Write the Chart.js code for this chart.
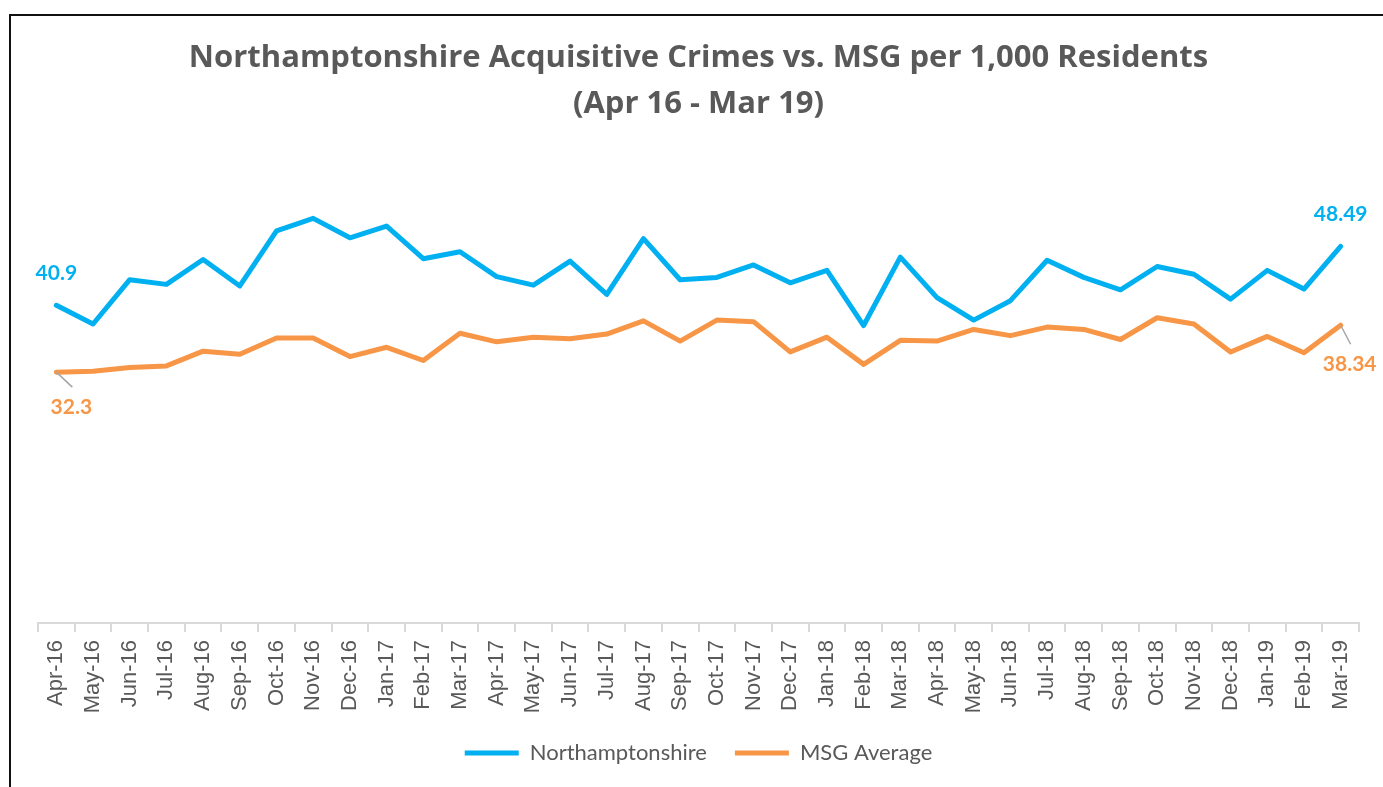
<!DOCTYPE html>
<html>
<head>
<meta charset="utf-8">
<title>Northamptonshire Acquisitive Crimes vs. MSG</title>
<script src="https://cdn.jsdelivr.net/npm/chart.js@4.4.0/dist/chart.umd.min.js"></script>
<style>
    html, body { margin: 0; padding: 0; background: #fff; overflow: hidden; }
    #frame { position: absolute; left: 9px; top: 14px; width: 1420px; height: 820px; border: 2px solid #111; }
    #crimeChart { position: absolute; left: 0; top: 0; }
</style>
</head>
<body>
<div id="frame"></div>
<canvas id="crimeChart" width="1383" height="787"></canvas>
<script>
// 데이터
const months = [
    'Apr-16', 'May-16', 'Jun-16', 'Jul-16', 'Aug-16', 'Sep-16', 'Oct-16', 'Nov-16', 'Dec-16',
    'Jan-17', 'Feb-17', 'Mar-17', 'Apr-17', 'May-17', 'Jun-17', 'Jul-17', 'Aug-17', 'Sep-17',
    'Oct-17', 'Nov-17', 'Dec-17', 'Jan-18', 'Feb-18', 'Mar-18', 'Apr-18', 'May-18', 'Jun-18',
    'Jul-18', 'Aug-18', 'Sep-18', 'Oct-18', 'Nov-18', 'Dec-18', 'Jan-19', 'Feb-19', 'Mar-19',
];
const northants = [
    40.9, 38.5, 44.2, 43.6, 46.8, 43.4, 50.5, 52.1, 49.6, 51.1, 46.9, 47.8,
    44.6, 43.5, 46.6, 42.3, 49.5, 44.2, 44.5, 46.1, 43.8, 45.4, 38.3, 47.1,
    41.9, 39.0, 41.5, 46.7, 44.5, 42.9, 45.9, 44.9, 41.7, 45.4, 43.0, 48.49,
];
const msgAverage = [
    32.3, 32.4, 32.9, 33.1, 35.0, 34.6, 36.7, 36.7, 34.3, 35.5, 33.8, 37.3,
    36.2, 36.8, 36.6, 37.2, 38.9, 36.3, 39.0, 38.8, 34.9, 36.8, 33.3, 36.4,
    36.3, 37.8, 37.0, 38.1, 37.8, 36.5, 39.3, 38.5, 34.9, 36.9, 34.8, 38.34,
];
const yTicks = { min: 0, max: 60 };
const labelledPoints = [0, months.length - 1];

const BLUE = '#00B0F0';
const ORANGE = '#F79646';
const GREY_TEXT = '#595959';

/**
 * 첫/마지막 값 라벨 (Excel 데이터 레이블 흉내)
 */
const endLabels = {
    id: 'endLabels',
    afterDatasetsDraw(chart) {
        const ctx = chart.ctx;
        // [datasetIndex][k] -> 라벨 위치 오프셋, 지시선 여부
        const placement = [
            [{ dx: 0, dy: -32, leader: false }, { dx: 0, dy: -32, leader: false }],
            [{ dx: 15, dy: 35, leader: true }, { dx: 9, dy: 39, leader: true }],
        ];
        ctx.save();
        ctx.font = 'bold 21px Lato';
        ctx.textAlign = 'center';
        ctx.textBaseline = 'middle';
        chart.data.datasets.forEach((ds, di) => {
            const meta = chart.getDatasetMeta(di);
            labelledPoints.forEach((idx, k) => {
                const pt = meta.data[idx];
                const p = placement[di][k];
                const tx = pt.x + p.dx;
                const ty = pt.y + p.dy;
                if (p.leader) {
                    ctx.strokeStyle = '#A6A6A6';
                    ctx.lineWidth = 1.5;
                    ctx.beginPath();
                    ctx.moveTo(pt.x, pt.y);
                    ctx.lineTo(tx + 1, ty - 20);
                    ctx.stroke();
                }
                ctx.fillStyle = ds.borderColor;
                ctx.fillText(String(ds.data[idx]), tx, ty);
            });
        });
        ctx.restore();
    },
};

new Chart(document.getElementById('crimeChart'), {
    type: 'line',
    data: {
        labels: months,
        datasets: [
            {
                label: 'Northamptonshire',
                data: northants,
                borderColor: BLUE,
                backgroundColor: BLUE,
                borderWidth: 5,
                pointRadius: 0,
                tension: 0,
                borderCapStyle: 'round',
                borderJoinStyle: 'round',
            },
            {
                label: 'MSG Average',
                data: msgAverage,
                borderColor: ORANGE,
                backgroundColor: ORANGE,
                borderWidth: 5,
                pointRadius: 0,
                tension: 0,
                borderCapStyle: 'round',
                borderJoinStyle: 'round',
            },
        ],
    },
    options: {
        responsive: false,
        animation: false,
        devicePixelRatio: 1,
        layout: {
            padding: { top: 0, left: 38, right: 24, bottom: 13 },
        },
        plugins: {
            title: {
                display: true,
                text: [
                    'Northamptonshire Acquisitive Crimes vs. MSG per 1,000 Residents',
                    '(Apr 16 - Mar 19)',
                ],
                color: GREY_TEXT,
                font: { family: 'Open Sans', size: 31, weight: 'bold', lineHeight: 46 / 31 },
                padding: { top: 35, bottom: 30 },
            },
            legend: {
                position: 'bottom',
                labels: {
                    boxWidth: 54,
                    boxHeight: 5,
                    padding: 28,
                    color: GREY_TEXT,
                    font: { family: 'Lato', size: 22 },
                    generateLabels(chart) {
                        return chart.data.datasets.map((ds, i) => ({
                            text: ds.label,
                            fillStyle: ds.borderColor,
                            strokeStyle: ds.borderColor,
                            lineWidth: 0,
                            hidden: false,
                            datasetIndex: i,
                            fontColor: GREY_TEXT,
                        }));
                    },
                },
            },
            tooltip: { enabled: false },
        },
        scales: {
            x: {
                offset: true,
                afterFit(scale) {
                    scale.height = 91;
                },
                border: { display: true, color: '#D9D9D9', width: 2 },
                grid: {
                    offset: true,
                    drawOnChartArea: false,
                    drawTicks: true,
                    tickLength: 9,
                    color: '#D9D9D9',
                    lineWidth: 2,
                },
                ticks: {
                    autoSkip: false,
                    minRotation: 90,
                    maxRotation: 90,
                    padding: 8,
                    color: GREY_TEXT,
                    font: { family: 'Liberation Sans', size: 22 },
                },
            },
            y: {
                display: false,
                min: yTicks.min,
                max: yTicks.max,
            },
        },
    },
    plugins: [endLabels],
});
</script>
</body>
</html>
